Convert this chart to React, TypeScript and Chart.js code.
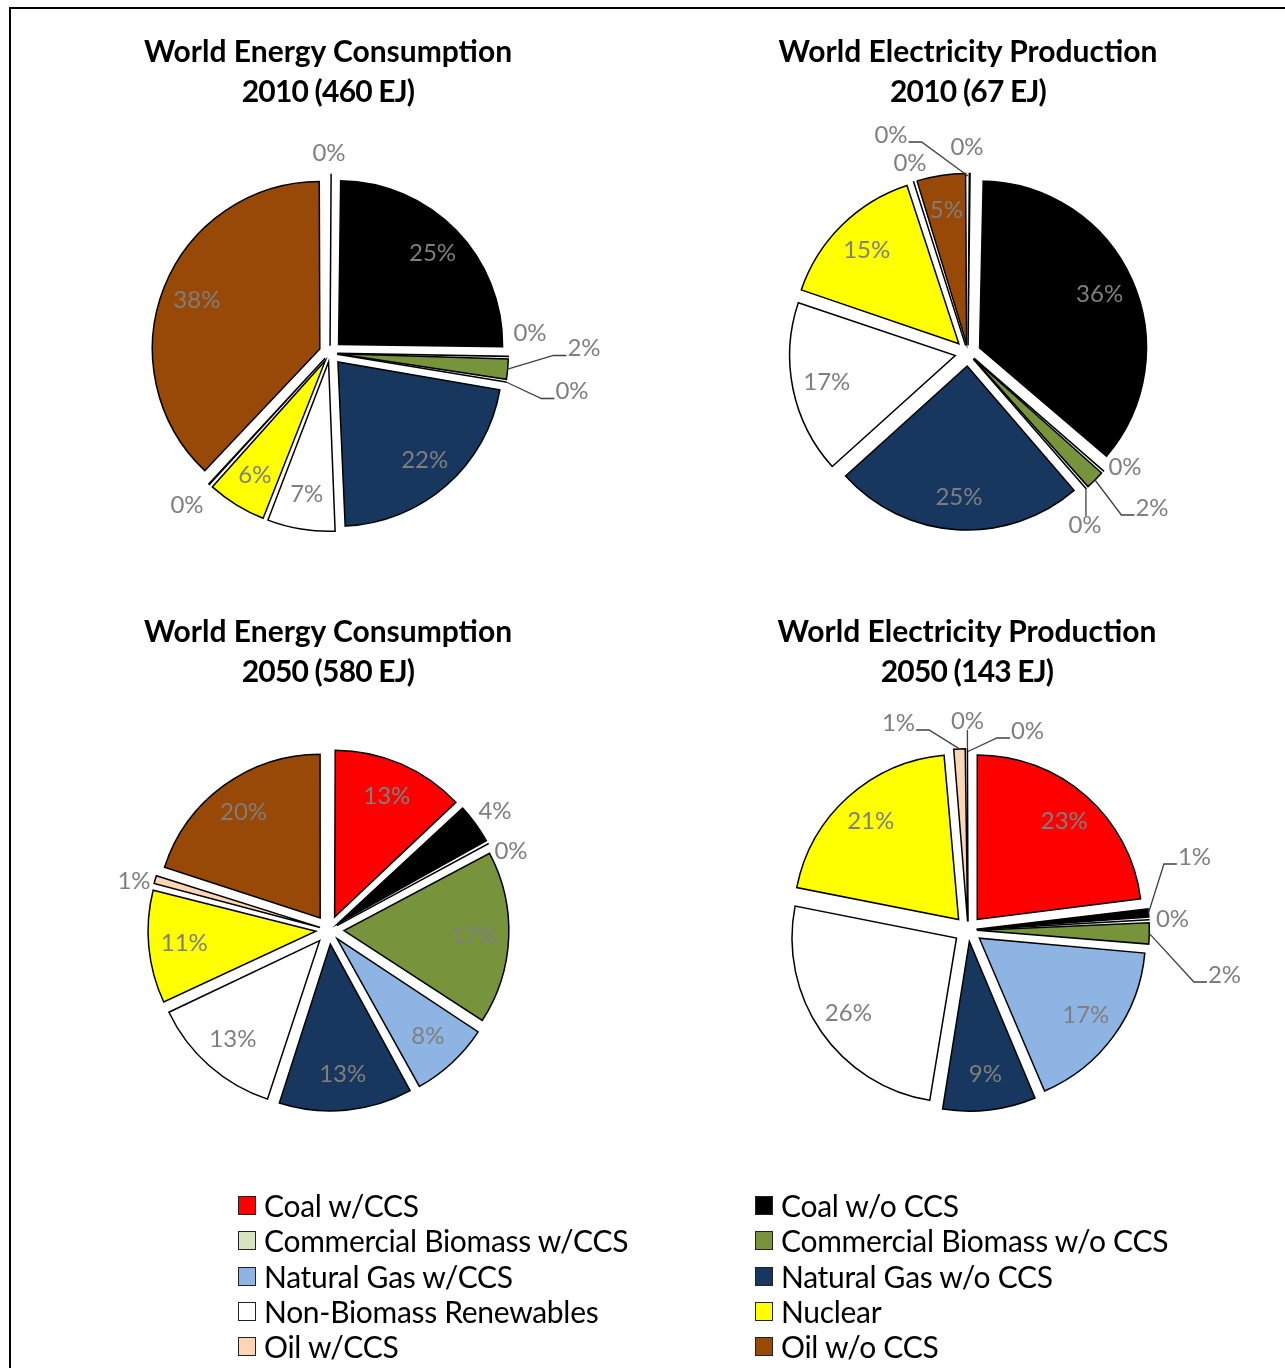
import React, { useEffect, useRef } from 'react';
import { Chart, registerables } from 'chart.js';

Chart.register(...registerables);

// ---- data ----
const categories = [
  'Coal w/CCS',
  'Coal w/o CCS',
  'Commercial Biomass w/CCS',
  'Commercial Biomass w/o CCS',
  'Natural Gas w/CCS',
  'Natural Gas w/o CCS',
  'Non-Biomass Renewables',
  'Nuclear',
  'Oil w/CCS',
  'Oil w/o CCS',
];
// the electricity tables carry one more (empty) entry after the ten sources
const extraCategory = 'Other';

const categoryColors = [
  '#FF0000',
  '#000000',
  '#D7E4BD',
  '#77933C',
  '#8EB4E3',
  '#17375E',
  '#FFFFFF',
  '#FFFF00',
  '#FCD5B5',
  '#984807',
  '#FFFFFF',
];

// shares in percent, in category order
const energy2010 = [0.2, 25.0, 0.2, 2.1, 0.2, 21.6, 6.6, 5.8, 0.3, 38.0];
const electricity2010 = [0.3, 36.0, 0.2, 2.0, 0.2, 24.6, 16.9, 14.8, 0.2, 4.8, 0];
const energy2050 = [13.0, 4.0, 0.2, 17.0, 7.8, 13.0, 13.0, 11.0, 1.0, 20.0];
const electricity2050 = [23.0, 1.0, 0.2, 2.2, 17.2, 9.0, 25.5, 20.5, 1.3, 0.1, 0];

const titleEnergy2010 = ['World Energy Consumption', '2010 (460 EJ)'];
const titleElectricity2010 = ['World Electricity Production', '2010 (67 EJ)'];
const titleEnergy2050 = ['World Energy Consumption', '2050 (580 EJ)'];
const titleElectricity2050 = ['World Electricity Production', '2050 (143 EJ)'];

// ---- styling / layout ----
const FONT = 'Lato, "Open Sans", "DejaVu Sans", sans-serif';
const CANVAS_W = 640;
const CANVAS_H = 560;
const LABEL_FONT = `24px ${FONT}`;
const LABEL_COLOR = '#7f7f7f';
const LEADER_COLOR = '#404040';
const INSIDE_LABEL_FACTOR = 0.8;

type Leader = 'left' | 'right' | 'vertical';
type Callout = { dx: number; dy: number; leader?: Leader };

type Panel = {
  title: string[];
  values: number[];
  cx: number;
  cy: number;
  radius: number;
  explode: number;
  titleX: number;
  titleTop: number;
  callouts: Record<number, Callout>;
};

const panels: Panel[] = [
  {
    title: titleEnergy2010,
    values: energy2010,
    cx: 330,
    cy: 352.5,
    radius: 164,
    explode: 12,
    titleX: 328,
    titleTop: 30,
    callouts: {
      0: { dx: -1, dy: -199.5 },
      2: { dx: 200, dy: -19.5 },
      3: { dx: 254, dy: -4.5, leader: 'right' },
      4: { dx: 242, dy: 38.5, leader: 'right' },
      8: { dx: -143, dy: 152.5 },
    },
  },
  {
    title: titleElectricity2010,
    values: electricity2010,
    cx: 968,
    cy: 353,
    radius: 164,
    explode: 13,
    titleX: 968,
    titleTop: 30,
    callouts: {
      0: { dx: -1, dy: -206 },
      2: { dx: 157, dy: 114 },
      3: { dx: 184, dy: 155, leader: 'right' },
      4: { dx: 117, dy: 172, leader: 'vertical' },
      8: { dx: -58, dy: -190 },
      10: { dx: -77, dy: -218, leader: 'left' },
    },
  },
  {
    title: titleEnergy2050,
    values: energy2050,
    cx: 329,
    cy: 929.5,
    radius: 163,
    explode: 15,
    titleX: 328,
    titleTop: 610,
    callouts: {
      1: { dx: 166, dy: -118.5 },
      2: { dx: 182, dy: -78.5 },
      8: { dx: -195, dy: -48.5 },
    },
  },
  {
    title: titleElectricity2050,
    values: electricity2050,
    cx: 967.5,
    cy: 930,
    radius: 164.5,
    explode: 14,
    titleX: 967,
    titleTop: 610,
    callouts: {
      1: { dx: 226.5, dy: -73, leader: 'right' },
      2: { dx: 204.5, dy: -11 },
      3: { dx: 256.5, dy: 45, leader: 'right' },
      8: { dx: -69.5, dy: -207, leader: 'left' },
      9: { dx: -0.5, dy: -209, leader: 'vertical' },
      10: { dx: 59.5, dy: -199, leader: 'right' },
    },
  },
];

const legendRows = [1205, 1240, 1276, 1311, 1346];
const legendColumns = [238, 755];

// Chart.js pushes narrow exploded slices further out; scale their offset so the
// outer rims of all slices stay on roughly the same circle.
function makeExplodeOffset(explode: number) {
  return (c: any): number => {
    const data = c.dataset.data as number[];
    const total = data.reduce((a, b) => a + b, 0);
    const circ = total > 0 ? (c.raw / total) * Math.PI * 2 : 0;
    if (!(circ > 0)) return explode * 4;
    const fix = 1 - Math.sin(Math.min(Math.PI, circ));
    const shift = explode * Math.min(1, 1.2 / (1 + fix));
    return shift * 4;
  };
}

// Percentage labels: inside the slice, or placed outside with an optional leader line
const sliceLabels = {
  id: 'sliceLabels',
  afterDatasetsDraw(chart: any, _args: any, opts: any) {
    const meta = chart.getDatasetMeta(0);
    const values = chart.data.datasets[0].data as number[];
    const total = values.reduce((a, b) => a + b, 0);
    const callouts: Record<number, Callout> = opts.callouts || {};
    const explode: number = opts.explode || 0;
    const ctx: CanvasRenderingContext2D = chart.ctx;
    ctx.save();
    ctx.font = LABEL_FONT;
    ctx.textAlign = 'center';
    ctx.textBaseline = 'middle';
    meta.data.forEach((el: any, i: number) => {
      const p = el.getProps(['x', 'y', 'startAngle', 'endAngle', 'outerRadius', 'circumference'], true);
      const mid = (p.startAngle + p.endAngle) / 2;
      const shift = (el.options.offset || 0) / 4;
      const cos = Math.cos(mid);
      const sin = Math.sin(mid);
      const text = Math.round((values[i] / total) * 100) + '%';
      const c = callouts[i];
      ctx.fillStyle = LABEL_COLOR;
      if (!c) {
        const r = explode + p.outerRadius * INSIDE_LABEL_FACTOR;
        ctx.fillText(text, p.x + cos * r, p.y + sin * r);
        return;
      }
      const tx = p.x + c.dx;
      const ty = p.y + c.dy;
      ctx.fillText(text, tx, ty);
      if (!c.leader) return;
      const grow = p.circumference > 0 ? shift * (1 - Math.sin(Math.min(Math.PI, p.circumference))) : 0;
      const edge = shift + p.outerRadius + grow;
      const sx = p.x + cos * edge;
      const sy = p.y + sin * edge;
      const w = ctx.measureText(text).width;
      ctx.strokeStyle = LEADER_COLOR;
      ctx.lineWidth = 1.3;
      ctx.beginPath();
      ctx.moveTo(sx, sy);
      if (c.leader === 'right') {
        const ax = tx - w / 2 - 1;
        const ay = ty + 7;
        ctx.lineTo(ax - 13, ay);
        ctx.lineTo(ax, ay);
      } else if (c.leader === 'left') {
        const ax = tx + w / 2 + 1;
        const ay = ty + 7;
        ctx.lineTo(ax + 13, ay);
        ctx.lineTo(ax, ay);
      } else {
        const ay = ty > sy ? ty - 9 : ty + 9;
        ctx.lineTo(sx, ay);
      }
      ctx.stroke();
    });
    ctx.restore();
  },
};

function PiePanel({ panel }: { panel: Panel }) {
  const ref = useRef<HTMLCanvasElement>(null);
  useEffect(() => {
    const labels = panel.values.map((_, i) => (i < categories.length ? categories[i] : extraCategory));
    const chart = new Chart(ref.current as HTMLCanvasElement, {
      type: 'pie',
      data: {
        labels,
        datasets: [
          {
            data: panel.values,
            backgroundColor: panel.values.map((_, i) => categoryColors[i]),
            borderColor: '#000000',
            borderWidth: 1.5,
            borderJoinStyle: 'miter',
            offset: makeExplodeOffset(panel.explode),
          } as any,
        ],
      },
      options: {
        responsive: false,
        maintainAspectRatio: false,
        animation: false,
        devicePixelRatio: 1,
        radius: panel.radius,
        layout: { padding: 0 },
        events: [],
        plugins: {
          legend: { display: false },
          tooltip: { enabled: false },
          title: { display: false },
          sliceLabels: { callouts: panel.callouts, explode: panel.explode },
        } as any,
      } as any,
      plugins: [sliceLabels],
    });
    return () => chart.destroy();
  }, [panel]);
  return (
    <canvas
      ref={ref}
      width={CANVAS_W}
      height={CANVAS_H}
      style={{
        position: 'absolute',
        left: panel.cx - CANVAS_W / 2,
        top: panel.cy - CANVAS_H / 2,
        width: CANVAS_W,
        height: CANVAS_H,
      }}
    />
  );
}

function PanelTitle({ panel }: { panel: Panel }) {
  return (
    <div
      style={{
        position: 'absolute',
        left: panel.titleX - 300,
        top: panel.titleTop,
        width: 600,
        textAlign: 'center',
        fontFamily: FONT,
        fontWeight: 700,
        fontSize: 30,
        lineHeight: '40px',
        color: '#000',
        whiteSpace: 'nowrap',
      }}
    >
      {panel.title.map((line, i) => (
        <div key={line} style={{ letterSpacing: i > 0 ? '-0.8px' : 'normal' }}>
          {line}
        </div>
      ))}
    </div>
  );
}

function Legend() {
  return (
    <>
      {categories.map((name, i) => {
        const col = i % 2;
        const row = Math.floor(i / 2);
        const x = legendColumns[col];
        const y = legendRows[row];
        return (
          <div
            key={name}
            style={{
              position: 'absolute',
              left: x,
              top: y - 18,
              height: 36,
              display: 'flex',
              alignItems: 'center',
              fontFamily: FONT,
              fontSize: 30,
              letterSpacing: '-0.3px',
              color: '#000',
              whiteSpace: 'nowrap',
            }}
          >
            <span
              style={{
                display: 'inline-block',
                width: 16,
                height: 17,
                background: categoryColors[i],
                border: '1px solid #222',
                marginRight: 8,
              }}
            />
            <span>{name}</span>
          </div>
        );
      })}
    </>
  );
}

export default function App() {
  return (
    <div
      style={{
        position: 'fixed',
        left: 0,
        top: 0,
        width: 1285,
        height: 1368,
        overflow: 'hidden',
        background: '#ffffff',
      }}
    >
      <div
        style={{
          position: 'absolute',
          left: 9,
          top: 7,
          width: 1400,
          height: 1400,
          borderLeft: '2px solid #000',
          borderTop: '2px solid #000',
        }}
      />
      {panels.map((p, i) => (
        <PiePanel key={i} panel={p} />
      ))}
      {panels.map((p, i) => (
        <PanelTitle key={'t' + i} panel={p} />
      ))}
      <Legend />
    </div>
  );
}
